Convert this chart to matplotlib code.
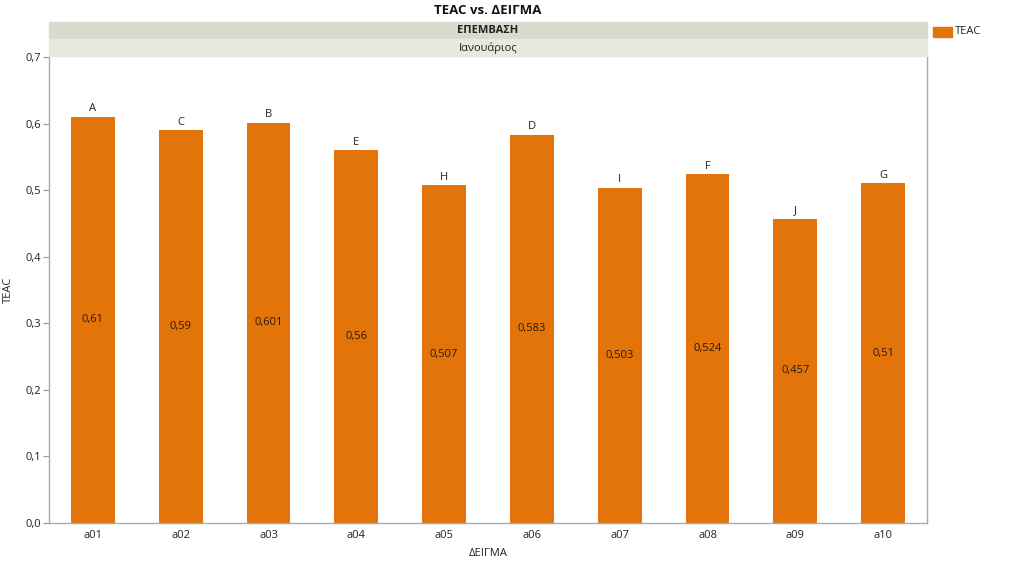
import matplotlib
matplotlib.use('Agg')
import matplotlib.pyplot as plt
import matplotlib.patches as mpatches

plt.rcParams['font.family'] = ['Open Sans', 'DejaVu Sans']

samples = ["a01", "a02", "a03", "a04", "a05", "a06", "a07", "a08", "a09", "a10"]
teac = [0.61, 0.59, 0.601, 0.56, 0.507, 0.583, 0.503, 0.524, 0.457, 0.51]
value_labels = ["0,61", "0,59", "0,601", "0,56", "0,507", "0,583", "0,503", "0,524", "0,457", "0,51"]
groups = ["A", "C", "B", "E", "H", "D", "I", "F", "J", "G"]
yticks = [0.0, 0.1, 0.2, 0.3, 0.4, 0.5, 0.6, 0.7]

ORANGE = "#E3740A"
W, H = 1024, 562

fig = plt.figure(figsize=(W / 100, H / 100), dpi=100)
ax = fig.add_axes([49 / W, 1 - 523 / H, (927 - 49) / W, (523 - 57) / H])

x = list(range(len(samples)))
ax.bar(x, teac, width=0.5, color=ORANGE)
for xi, v, lbl, g in zip(x, teac, value_labels, groups):
    ax.text(xi, v / 2, lbl, ha='center', va='center', fontsize=8, color='#2a1a0a')
    ax.text(xi, v + 0.004, g, ha='center', va='bottom', fontsize=8, color='#222222')

ax.set_xlim(-0.5, len(samples) - 0.5)
ax.set_ylim(0, 0.7)
ax.set_xticks(x)
ax.set_xticklabels(samples, fontsize=8, color='#222222')
ax.set_yticks(yticks)
ax.set_yticklabels([f"{t:.1f}".replace('.', ',') for t in yticks], fontsize=8, color='#222222')
ax.tick_params(axis='x', length=0, pad=5)
ax.tick_params(axis='y', length=4, color='#999999', pad=2)
for s in ['left', 'bottom', 'right']:
    ax.spines[s].set_color('#aaaaaa')
    ax.spines[s].set_linewidth(1)
ax.spines['top'].set_visible(False)

ax.set_xlabel("ΔΕΙΓΜΑ", fontsize=8, color='#222222', labelpad=5)
ax.set_ylabel("TEAC", fontsize=8, color='#222222', labelpad=8)

# strips above the plot
x0, x1 = 49 / W, 927 / W
fig.patches.append(mpatches.Rectangle((x0, 1 - 39 / H), x1 - x0, 17 / H,
                                      transform=fig.transFigure, color='#D9D9CC', zorder=0))
fig.patches.append(mpatches.Rectangle((x0, 1 - 56 / H), x1 - x0, 17 / H,
                                      transform=fig.transFigure, color='#E8E8DE', zorder=0))
fig.text((x0 + x1) / 2, 1 - 30.5 / H, "ΕΠΕΜΒΑΣΗ", ha='center', va='center',
         fontsize=8, fontweight='bold', color='#222222')
fig.text((x0 + x1) / 2, 1 - 47.5 / H, "Ιανουάριος", ha='center', va='center',
         fontsize=8, color='#222222')
fig.text((x0 + x1) / 2, 1 - 11 / H, "TEAC vs. ΔΕΙΓΜΑ", ha='center', va='center',
         fontsize=9.5, fontweight='bold', color='#111111')

# legend
fig.patches.append(mpatches.Rectangle((933 / W, 1 - 37 / H), 19 / W, 10 / H,
                                      transform=fig.transFigure, color=ORANGE))
fig.text(955 / W, 1 - 32 / H, "TEAC", ha='left', va='center', fontsize=8, color='#222222')

fig.savefig("out.png", dpi=100)
